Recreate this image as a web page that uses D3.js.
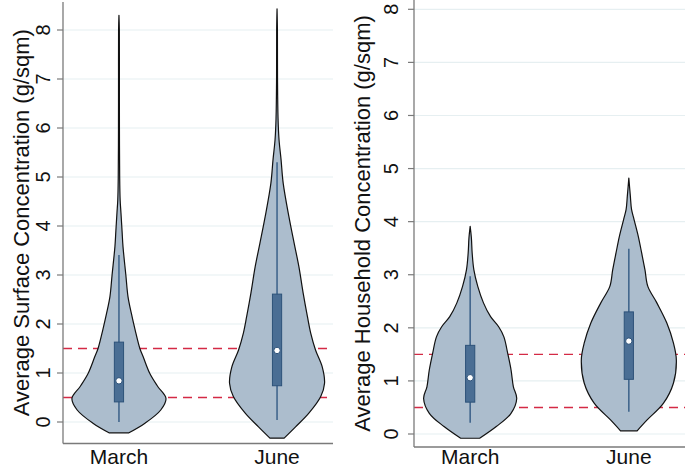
<!DOCTYPE html>
<html><head><meta charset="utf-8">
<script src="https://cdn.jsdelivr.net/npm/d3@7"></script>
<style>
html,body{margin:0;padding:0;background:#fff;}
svg{display:block;font-family:"Liberation Sans",Arial,Helvetica,sans-serif;}
</style></head>
<body><svg id="chart" width="685" height="469"></svg>
<script>
// ---------- DATA ----------
const categories = ["March", "June"];
const yTicks = [0, 1, 2, 3, 4, 5, 6, 7, 8];
const refLines = [0.5, 1.5];
const titles = ["Average Surface Concentration (g/sqm)", "Average Household Concentration (g/sqm)"];

// violin outlines: value (g/sqm) and relative density (half width, max = 1)
const surfMarchY = [-0.22, -0.03, 0.245, 0.48, 0.72, 0.99, 1.33, 1.5, 1.88, 2.22, 2.56, 3.0, 3.58, 3.9, 4.27, 4.53, 5.0, 6.0, 7.0, 8.0, 8.3];
const surfMarchD = [0.21, 0.54, 0.88, 0.99, 0.82, 0.65, 0.51, 0.44, 0.34, 0.26, 0.19, 0.145, 0.085, 0.065, 0.042, 0.025, 0.015, 0.01, 0.009, 0.008, 0];
const surfJuneY = [-0.33, -0.1, 0.18, 0.52, 0.79, 1.13, 1.47, 1.81, 2.15, 2.63, 3.17, 3.65, 4.19, 4.87, 5.35, 5.76, 6.2, 7.0, 8.0, 8.43];
const surfJuneD = [0.15, 0.39, 0.67, 0.92, 1.0, 0.95, 0.81, 0.71, 0.64, 0.55, 0.46, 0.36, 0.25, 0.13, 0.085, 0.042, 0.021, 0.01, 0.008, 0];
const houseMarchY = [-0.08, 0.14, 0.39, 0.67, 0.89, 1.21, 1.52, 1.83, 2.02, 2.21, 2.47, 2.78, 3.09, 3.41, 3.7, 3.91];
const houseMarchD = [0.2, 0.55, 0.86, 0.98, 0.91, 0.86, 0.79, 0.71, 0.6, 0.43, 0.28, 0.16, 0.078, 0.042, 0.025, 0];
const houseJuneY = [0.06, 0.26, 0.58, 0.96, 1.4, 1.71, 2.09, 2.47, 2.78, 3.09, 3.41, 3.72, 4.04, 4.23, 4.48, 4.82];
const houseJuneD = [0.175, 0.38, 0.73, 0.94, 1.0, 0.94, 0.8, 0.59, 0.4, 0.34, 0.27, 0.2, 0.11, 0.057, 0.032, 0];

// box stats: [lower whisker, q1, median, q3, upper whisker]
const surfBox = [[0.0, 0.41, 0.84, 1.63, 3.41], [0.04, 0.74, 1.46, 2.61, 5.3]];
const houseBox = [[0.21, 0.6, 1.06, 1.67, 2.97], [0.42, 1.03, 1.75, 2.3, 3.49]];

// ---------- LAYOUT ----------
const panels = [
  {x0: 63, x1: 333, y0: 422, y8: 30, axTop: 2, axBottom: 443.5, labX: 50, titleX: 28.5,
   title: titles[0], violins: [[surfMarchY, surfMarchD], [surfJuneY, surfJuneD]], boxes: surfBox},
  {x0: 414, x1: 685, y0: 434, y8: 9.3, axTop: 0, axBottom: 447, labX: 398, titleX: 369.5,
   title: titles[1], violins: [[houseMarchY, houseMarchD], [houseJuneY, houseJuneD]], boxes: houseBox}
];

const svg = d3.select("#chart");
const wScale = d3.scaleLinear().domain([0, 1]).range([0, 47.5]);

panels.forEach(p => {
  const y = d3.scaleLinear().domain([0, 8]).range([p.y0, p.y8]);
  const x = d3.scalePoint().domain(categories).range([p.x0, p.x1]).padding(0.354);
  const g = svg.append("g");

  // gridlines
  g.selectAll("line.grid").data(yTicks).join("line")
    .attr("x1", p.x0).attr("x2", p.x1)
    .attr("y1", d => y(d)).attr("y2", d => y(d))
    .attr("stroke", "#e6eff1").attr("stroke-width", 1.2);

  // reference lines
  g.selectAll("line.ref").data(refLines).join("line")
    .attr("x1", p.x0).attr("x2", p.x1)
    .attr("y1", d => y(d)).attr("y2", d => y(d))
    .attr("stroke", "#d42a45").attr("stroke-width", 1.4)
    .attr("stroke-dasharray", "9,6");

  // violins
  categories.forEach((c, i) => {
    const [vy, vd] = p.violins[i];
    const pts = vy.map((v, k) => ({v, d: vd[k]}));
    const area = d3.area()
      .y(d => y(d.v))
      .x0(d => x(c) - wScale(d.d))
      .x1(d => x(c) + wScale(d.d))
      .curve(d3.curveCatmullRom.alpha(0.5));
    g.append("path").datum(pts).attr("d", area)
      .attr("fill", "#acbdcd").attr("stroke", "#111").attr("stroke-width", 1.2)
      .attr("stroke-linejoin", "round");

    const b = p.boxes[i];
    const cx = x(c);
    g.append("line").attr("x1", cx).attr("x2", cx).attr("y1", y(b[0])).attr("y2", y(b[4]))
      .attr("stroke", "#3a6088").attr("stroke-width", 1.5);
    g.append("rect").attr("x", cx - 4.6).attr("width", 9.2)
      .attr("y", y(b[3])).attr("height", y(b[1]) - y(b[3]))
      .attr("fill", "#4a6e94").attr("stroke", "#2d5279").attr("stroke-width", 1);
    g.append("circle").attr("cx", cx).attr("cy", y(b[2])).attr("r", 3.2)
      .attr("fill", "#fff").attr("stroke", "#2d5279").attr("stroke-width", 1);
  });

  // axes
  g.append("line").attr("x1", p.x0).attr("x2", p.x0).attr("y1", p.axTop).attr("y2", p.axBottom)
    .attr("stroke", "#7a7a7a").attr("stroke-width", 1.3);
  g.append("line").attr("x1", p.x0).attr("x2", p.x1).attr("y1", p.axBottom).attr("y2", p.axBottom)
    .attr("stroke", "#7a7a7a").attr("stroke-width", 1.3);
  g.selectAll("line.tick").data(yTicks).join("line")
    .attr("x1", p.x0 - 6).attr("x2", p.x0)
    .attr("y1", d => y(d)).attr("y2", d => y(d))
    .attr("stroke", "#7a7a7a").attr("stroke-width", 1.2);
  g.selectAll("text.tl").data(yTicks).join("text")
    .attr("transform", d => `translate(${p.labX},${y(d)}) rotate(-90)`)
    .attr("text-anchor", "middle").attr("font-size", 20).attr("fill", "#111")
    .text(d => d);

  // category labels
  g.selectAll("text.cat").data(categories).join("text")
    .attr("x", d => x(d)).attr("y", 463.5)
    .attr("text-anchor", "middle").attr("font-size", 21).attr("fill", "#111")
    .text(d => d);

  // title
  g.append("text")
    .attr("transform", `translate(${p.titleX},${(p.axTop + p.axBottom) / 2}) rotate(-90)`)
    .attr("text-anchor", "middle").attr("font-size", 22).attr("fill", "#111")
    .text(p.title);
});
</script></body></html>
